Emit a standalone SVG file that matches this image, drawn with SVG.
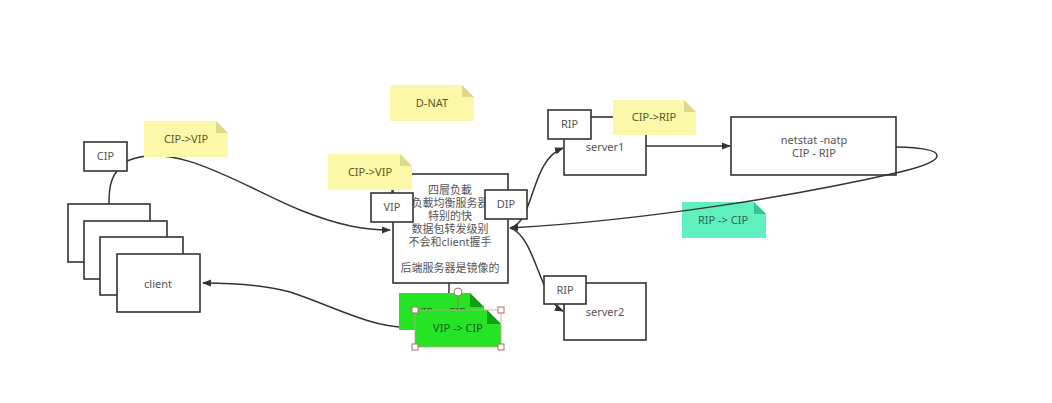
<svg xmlns="http://www.w3.org/2000/svg" width="1052" height="403" viewBox="0 0 1052 403">
<style>
.box{fill:#fff;stroke:#333;stroke-width:1.6}
.lbl{font-family:"Noto Sans","Noto Sans CJK SC",sans-serif;font-size:11px;fill:#555;text-anchor:middle}
.ntxt{font-family:"Noto Sans","Noto Sans CJK SC",sans-serif;font-size:11px;text-anchor:middle}
.ny{fill:#fbf8aa}.nyf{fill:#dcd98c}
.ng{fill:#25e425}.ngf{fill:#10a010}
.nt{fill:#5ff0bd}.ntf{fill:#36c592}
.con{fill:none;stroke:#333;stroke-width:1.5}
.h{fill:#fff;stroke:#b06a6a;stroke-width:1}
</style>
<defs>
<marker id="arr" viewBox="0 0 10 10" refX="9" refY="5" markerWidth="9" markerHeight="9" markerUnits="userSpaceOnUse" orient="auto">
<path d="M0,1 L10,5 L0,9 Z" fill="#333"/>
</marker>
</defs>
<rect width="1052" height="403" fill="#fff"/>

<g id="client">
<rect class="box" x="68" y="204" width="82" height="58"/>
<rect class="box" x="84" y="221" width="83" height="58"/>
<rect class="box" x="100" y="237" width="83" height="58"/>
<rect class="box" x="117" y="254" width="83" height="58"/>
<text class="lbl" x="158" y="288">client</text>
</g>

<g id="connectors">
<path class="con" d="M117,171 C110,180 109,190 109,204"/>
<path class="con" d="M127,161 C175,140 240,185 300,210 C340,226 365,230 390,230" marker-end="url(#arr)"/>
<path class="con" d="M449,283 C450,315 440,327 405,327 C370,327 330,305 290,292 C260,284 230,283 203,283" marker-end="url(#arr)"/>
<path class="con" d="M510,228 C535,222 530,160 563,148" marker-end="url(#arr)"/>
<path class="con" d="M510,228 C535,235 540,300 563,311" marker-end="url(#arr)"/>
<path class="con" d="M646,146 H730" marker-end="url(#arr)"/>
<path class="con" d="M392,190 V193"/>
</g>

<g id="cip">
<rect class="box" x="84" y="142" width="43" height="29"/>
<text class="lbl" x="105.5" y="160">CIP</text>
</g>

<g id="note-cip-vip-1">
<path class="ny" d="M144,121 H216 L228,133 V157 H144 Z"/>
<path class="nyf" d="M216,121 L228,133 H216 Z"/>
<text class="ntxt" x="186" y="143" fill="#5a5a22">CIP-&gt;VIP</text>
</g>

<g id="note-dnat">
<path class="ny" d="M390,85 H462 L474,97 V121 H390 Z"/>
<path class="nyf" d="M462,85 L474,97 H462 Z"/>
<text class="ntxt" x="432" y="107" fill="#5a5a22">D-NAT</text>
</g>

<g id="lb">
<rect class="box" x="393" y="174" width="115" height="109"/>
<text class="lbl" x="450" y="194">四層负載</text>
<text class="lbl" x="450" y="207">负載均衡服务器</text>
<text class="lbl" x="450" y="220">特别的快</text>
<text class="lbl" x="450" y="233">数据包转发级别</text>
<text class="lbl" x="450" y="246">不会和client握手</text>
<text class="lbl" x="450" y="272">后端服务器是镜像的</text>
</g>

<g id="vip">
<rect class="box" x="371" y="193" width="42" height="29"/>
<text class="lbl" x="392" y="211">VIP</text>
</g>

<g id="dip">
<rect class="box" x="485" y="190" width="42" height="29"/>
<text class="lbl" x="506" y="208">DIP</text>
</g>

<g id="note-cip-vip-2">
<path class="ny" d="M328,154 H400 L412,166 V190 H328 Z"/>
<path class="nyf" d="M400,154 L412,166 H400 Z"/>
<text class="ntxt" x="370" y="176" fill="#5a5a22">CIP-&gt;VIP</text>
</g>

<g id="server1">
<rect class="box" x="564" y="117" width="82" height="58"/>
<text class="lbl" x="605" y="151">server1</text>
</g>

<g id="rip1">
<rect class="box" x="548" y="110" width="43" height="29"/>
<text class="lbl" x="569.5" y="128">RIP</text>
</g>

<g id="note-cip-rip">
<path class="ny" d="M613,100 H684 L696,112 V135 H613 Z"/>
<path class="nyf" d="M684,100 L696,112 H684 Z"/>
<text class="ntxt" x="654" y="121" fill="#5a5a22">CIP-&gt;RIP</text>
</g>

<g id="netstat">
<rect class="box" x="731" y="117" width="165" height="58"/>
<text class="lbl" x="814" y="144">netstat -natp</text>
<text class="lbl" x="814" y="157">CIP - RIP</text>
</g>

<g id="note-rip-cip">
<path class="nt" d="M682,202 H754 L766,214 V238 H682 Z"/>
<path class="ntf" d="M754,202 L766,214 H754 Z"/>
<text class="ntxt" x="723" y="224" fill="#2b6a52">RIP -&gt; CIP</text>
</g>

<g id="connector-return">
<path class="con" d="M896,147 C950,148 950,160 900,172 C800,195 650,220 510,228" marker-end="url(#arr)"/>
</g>

<g id="server2">
<rect class="box" x="564" y="283" width="82" height="57"/>
<text class="lbl" x="605" y="316">server2</text>
</g>

<g id="rip2">
<rect class="box" x="544" y="276" width="42" height="28"/>
<text class="lbl" x="565" y="294">RIP</text>
</g>

<g id="note-vip-cip-back">
<path class="ng" d="M399,293 H470 L484,307 V330 H399 Z"/>
<path class="ngf" d="M470,293 L484,307 H470 Z"/>
<text class="ntxt" x="441" y="316" fill="#1a5a1a">VIP -&gt; CIP</text>
</g>

<g id="note-vip-cip">
<path class="ng" d="M415,310 H487 L501,324 V347 H415 Z"/>
<path class="ngf" d="M487,310 L501,324 H487 Z"/>
<text class="ntxt" x="458" y="332" fill="#1a5a1a">VIP -&gt; CIP</text>
<path d="M415,310 H501 V347 H415 Z" fill="none" stroke="#c99" stroke-width="0.8"/>
<path d="M458,296 V310" stroke="#b06a6a" stroke-width="1"/>
<circle class="h" cx="458" cy="292" r="4"/>
<rect class="h" x="412" y="307" width="6" height="6"/>
<rect class="h" x="498" y="307" width="6" height="6"/>
<rect class="h" x="412" y="344" width="6" height="6"/>
<rect class="h" x="498" y="344" width="6" height="6"/>
</g>
</svg>
